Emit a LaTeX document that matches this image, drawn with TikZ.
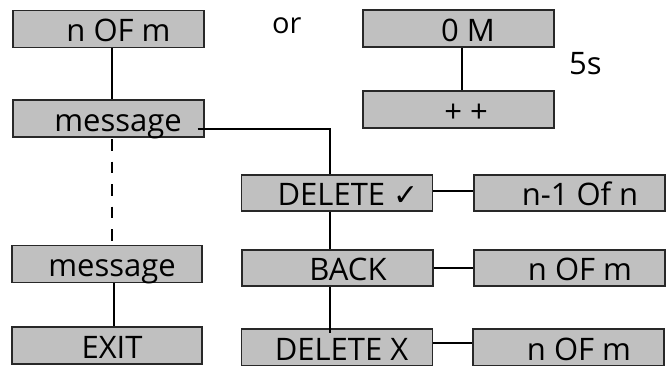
\documentclass[tikz,border=0pt]{standalone}
\usepackage{fontspec}
\setmainfont{Open Sans}
\newfontfamily\dejavu{DejaVu Sans}
\definecolor{boxfill}{RGB}{192,192,192}
\definecolor{boxline}{RGB}{40,40,40}
\begin{document}
\begin{tikzpicture}[x=1pt,y=-1pt,
  menubox/.style={draw=boxline, fill=boxfill, line width=1.3pt, minimum width=191pt, minimum height=37pt, inner sep=0pt},
  lbl/.style={font=\fontsize{31}{33}\selectfont, text height=25pt, text depth=0pt, inner sep=0pt},
  conn/.style={line width=2pt, draw=black},
  dashconn/.style={conn, dash pattern=on 11.5pt off 11pt, dash phase=21pt},
  freetext/.style={inner sep=0pt, anchor=base west}]
\useasboundingbox (0,0) rectangle (672,365);
% left column
\node[menubox, label={[lbl,xshift=10pt]center:n OF m}] (nofm) at (108.5,29) {};
\node[menubox, label={[lbl,xshift=9.5pt]center:message}] (msgA) at (108.5,118.5) {};
\node[menubox, minimum width=190pt, label={[lbl,xshift=5pt]center:message}] (msgB) at (107,264) {};
\node[menubox, minimum width=190pt, label={[lbl,xshift=5pt]center:EXIT}] (exit) at (107,345.5) {};
% top right
\node[menubox, label={[lbl,xshift=9.5pt]center:0 M}] (zerom) at (458.5,28.5) {};
\node[menubox, label={[lbl,xshift=7.5pt]center:+ +}] (plus) at (458.5,109.5) {};
\node[freetext, font=\fontsize{29}{30}\selectfont] (ortxt) at (272,33) {or};
\node[freetext, font=\fontsize{31}{33}\selectfont] (fivs) at (569,74) {5s};
% middle column
\node[menubox, minimum height=36pt, label={[lbl,xshift=11pt]center:DELETE {\dejavu\fontsize{30}{32}\selectfont ✓}}] (del) at (337,193) {};
\node[menubox, minimum height=36pt, label={[lbl,xshift=10.5pt]center:BACK}] (back) at (337.5,268) {};
\node[menubox, label={[lbl,xshift=4.5pt]center:DELETE X}] (delx) at (337,347.5) {};
% right column
\node[menubox, minimum height=36pt, label={[lbl,xshift=10.5pt]center:n-1 Of n}] (r1) at (569.5,193) {};
\node[menubox, minimum height=36pt, label={[lbl,xshift=10.5pt]center:n OF m}] (r2) at (569.5,268) {};
\node[menubox, label={[lbl,xshift=10.5pt]center:n OF m}] (r3) at (568.5,347.5) {};
% connectors
\draw[conn] ([xshift=3.5pt]nofm.south) -- ([xshift=3.5pt]nofm.south |- msgA.north);
\draw[dashconn] ([xshift=3.5pt]msgA.south) -- ([xshift=3.5pt]msgA.south |- msgB.north);
\draw[conn] ([xshift=7pt]msgB.south) -- ([xshift=7pt]msgB.south |- exit.north);
\draw[conn] ([xshift=3.5pt]zerom.south) -- ([xshift=3.5pt]zerom.south |- plus.north);
\draw[conn] ([shift={(-7pt,-10.5pt)}]msgA.east) -| ([xshift=-7pt]del.north);
\draw[conn] ([xshift=-7pt]del.south) -- ([xshift=-7pt]del.south |- back.north);
\draw[conn] ([xshift=-7.5pt]back.south) -- ([xshift=-7.5pt,yshift=-5pt]back.south |- delx.north);
\draw[conn] ([yshift=2pt]del.east) -- ([yshift=2pt]r1.west);
\draw[conn] (back.east) -- (r2.west);
\draw[conn] ([yshift=4.5pt]delx.east) -- ([yshift=4.5pt]r3.west);
\end{tikzpicture}
\end{document}
